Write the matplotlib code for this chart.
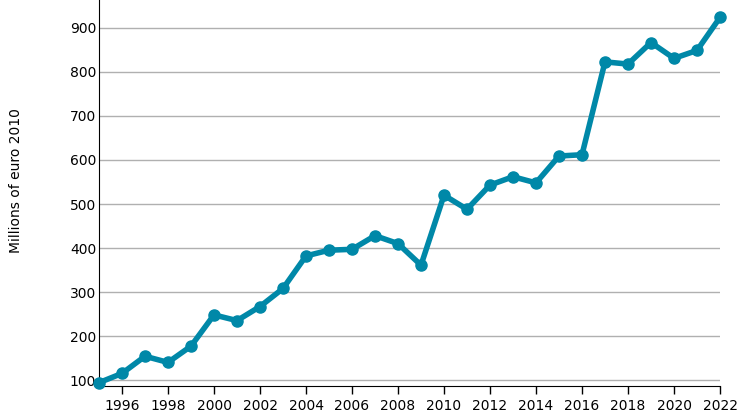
import matplotlib
matplotlib.use("Agg")
import matplotlib.pyplot as plt

years = list(range(1995, 2023))
values = [94, 115, 154, 140, 177, 248, 235, 267, 308, 382, 395, 397, 428, 410,
          361, 520, 488, 543, 562, 548, 609, 612, 823, 818, 867, 831, 849, 924]
xticks = list(range(1996, 2023, 2))
yticks = list(range(100, 1000, 100))

color = "#0088a8"

fig = plt.figure(figsize=(7.51, 4.18), dpi=100)
ax = fig.add_axes([99/751, 32/418, 621/751, 386/418])

ax.plot(years, values, color=color, lw=4, marker="o", ms=8,
        solid_joinstyle="round", solid_capstyle="round", clip_on=False, zorder=3)

ax.set_xlim(1995, 2022)
ax.set_ylim(86.4, 963.6)
ax.set_xticks(xticks)
ax.set_yticks(yticks)
ax.tick_params(axis="x", length=6, width=1, pad=3, labelsize=10, color="black")
ax.tick_params(axis="y", length=0, pad=2, labelsize=10)
ax.grid(axis="y", color="#b0b0b0", lw=1)
ax.set_axisbelow(True)
for s in ["top", "right"]:
    ax.spines[s].set_visible(False)
ax.spines["left"].set_position(("outward", 0))
ax.spines["bottom"].set_position(("data", 86.4))
ax.set_ylabel("Millions of euro 2010", fontsize=10, labelpad=0)
ax.yaxis.set_label_coords(-0.125, 0.5, transform=ax.transAxes)
ax.yaxis.label.set_position((0, 0.5))
fig.text(16/751, 1 - 181/418, "Millions of euro 2010", rotation=90,
         ha="center", va="center", fontsize=10)
ax.set_ylabel("")

fig.savefig("out.png", dpi=100)
